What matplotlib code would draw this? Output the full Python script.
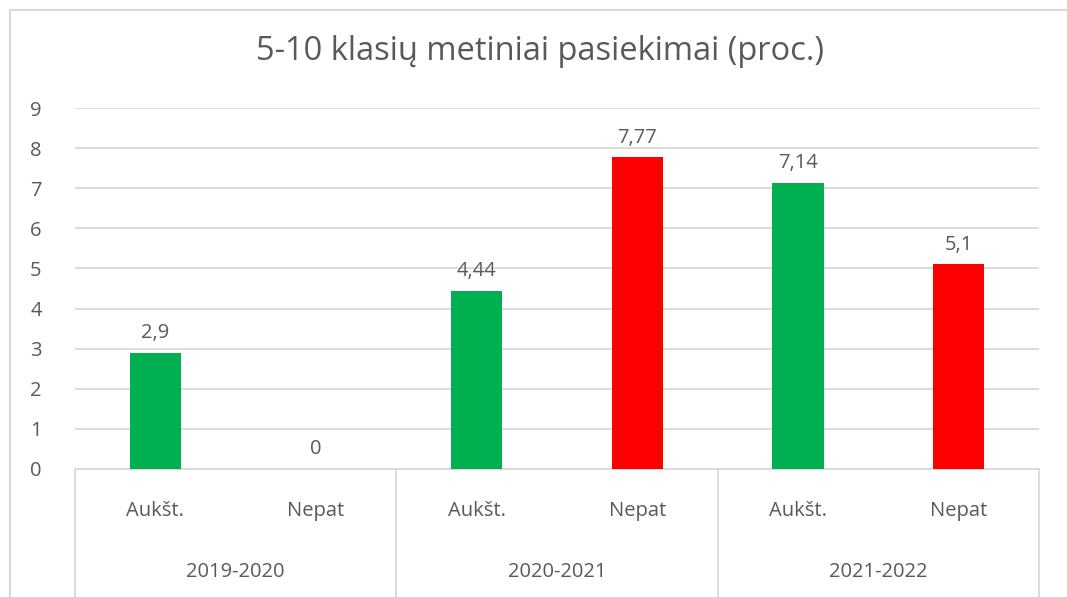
import matplotlib.pyplot as plt
from matplotlib.patches import Rectangle

plt.rcParams['font.family'] = ['Open Sans', 'DejaVu Sans']

# Duomenys
metai = ['2019-2020', '2020-2021', '2021-2022']
tipai = ['Aukšt.', 'Nepat']
reiksmes = [2.9, 0, 4.44, 7.77, 7.14, 5.1]
etiketes = ['2,9', '0', '4,44', '7,77', '7,14', '5,1']
spalvos = ['#00b050', '#ff0000'] * 3

tekstas = '#595959'
linija = '#d9d9d9'
fs = 14.5

fig = plt.figure(figsize=(10.67, 5.97), dpi=100)
ax = fig.add_axes([75 / 1067, 128 / 597, (1039 - 75) / 1067, (469 - 108) / 597])

x = list(range(len(reiksmes)))
bars = ax.bar(x, reiksmes, width=0.32, color=spalvos, zorder=3)
ax.set_xlim(-0.5, len(reiksmes) - 0.5)
ax.set_ylim(0, 9)
ax.set_yticks(range(10))
ax.yaxis.grid(True, color=linija, linewidth=1.3, zorder=0)
ax.tick_params(axis='y', length=0, pad=24, labelsize=fs, labelcolor=tekstas)
ax.tick_params(axis='x', length=0, labelbottom=False)
for s in ['top', 'right', 'left']:
    ax.spines[s].set_visible(False)
ax.spines['bottom'].set_color(linija)
ax.spines['bottom'].set_linewidth(1.3)

# Reikšmių etiketės
for b, t in zip(bars, etiketes):
    ax.annotate(t, (b.get_x() + b.get_width() / 2, b.get_height()),
                xytext=(0, 7), textcoords='offset points',
                ha='center', va='bottom', fontsize=fs, color=tekstas)

# Dviejų lygių kategorijų ašis
tr = ax.get_xaxis_transform()
for i, t in enumerate(x):
    ax.text(t, -0.115, tipai[i % 2], transform=tr, ha='center', va='center',
            fontsize=fs, color=tekstas)
for g, m in enumerate(metai):
    ax.text(2 * g + 0.5, -0.285, m, transform=tr, ha='center', va='center',
            fontsize=fs, color=tekstas)
for k in range(4):
    ax.plot([2 * k - 0.5] * 2, [0, -0.36], transform=tr, color=linija,
            linewidth=1.3, clip_on=False)

fig.text(540 / 1067, 1 - 52 / 597, '5-10 klasių metiniai pasiekimai (proc.)',
         ha='center', va='center', fontsize=23.5, color=tekstas)

# Diagramos rėmelis
fig.patches.append(Rectangle((10 / 1067, -0.01), 1.1, 1 - 10 / 597 + 0.01,
                             transform=fig.transFigure, fill=False,
                             edgecolor=linija, linewidth=1.5))

fig.savefig('out.png', dpi=100)
